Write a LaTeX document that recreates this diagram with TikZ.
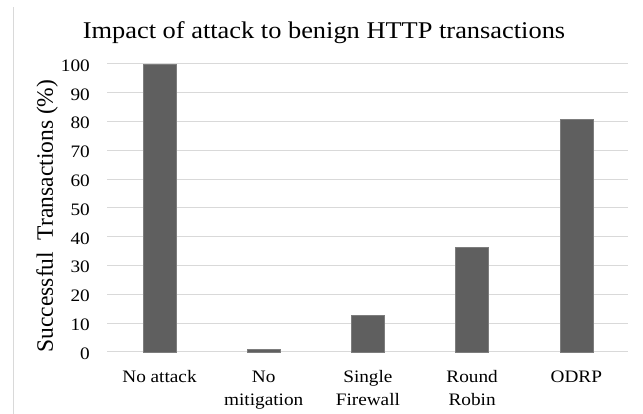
\documentclass[tikz,border=0pt]{standalone}
\usepackage{fontspec}
\setmainfont{Liberation Serif}[FakeStretch=1.1]
\newfontfamily\ylabfont{Liberation Serif}
\definecolor{barfill}{RGB}{95,95,95}
\definecolor{baredge}{RGB}{125,125,125}
\definecolor{gridc}{RGB}{217,217,217}
\tikzset{
  gridline/.style={draw=gridc, line width=1pt},
  barbox/.style={fill=barfill, draw=baredge, line width=0.6pt},
  ticklab/.style={anchor=east, inner sep=0pt, font=\fontsize{17.5}{20}\selectfont},
  catlab/.style={anchor=base, inner sep=0pt, font=\fontsize{17.5}{21}\selectfont},
}
\begin{document}
\begin{tikzpicture}[x=1pt,y=1pt]
\useasboundingbox (0,0) rectangle (643,414);
\fill[white] (0,0) rectangle (643,414);
% left frame line
\draw[gridc, line width=1pt] (13,0) -- (13,407);
% title
\node[anchor=base, inner sep=0pt, font=\fontsize{24}{28}\selectfont] (title) at (324,375.5) {Impact of attack to benign HTTP transactions};
% y axis label
\node[anchor=base, rotate=90, inner sep=0pt, font=\ylabfont\fontsize{23.5}{27}\selectfont] (ylab) at (53,198) {Successful\ \ Transactions (\%)};
% gridlines and tick labels
\foreach \v in {0,10,...,100}{
  \draw[gridline] (107,{62+2.88*\v}) -- (628,{62+2.88*\v});
  \node[ticklab] (t\v) at (90,{60.5+2.88*\v}) {\v};
}
% bars
\foreach \c/\val in {159.5/100, 263.7/0.9, 367.9/12.7, 472.1/36.3, 576.3/80.8}{
  \draw[barbox] ({\c-16.5},62) rectangle ({\c+16.5},{62+2.88*\val});
}
% category labels
\node[catlab] (c1) at (159.5,31) {No attack};
\node[catlab] (c2a) at (263.7,31) {No};
\node[catlab] (c2b) at (263.7,8) {mitigation};
\node[catlab] (c3a) at (367.9,31) {Single};
\node[catlab] (c3b) at (367.9,8) {Firewall};
\node[catlab] (c4a) at (472.1,31) {Round};
\node[catlab] (c4b) at (472.1,8) {Robin};
\node[catlab] (c5) at (576.3,31) {ODRP};
\end{tikzpicture}
\end{document}
